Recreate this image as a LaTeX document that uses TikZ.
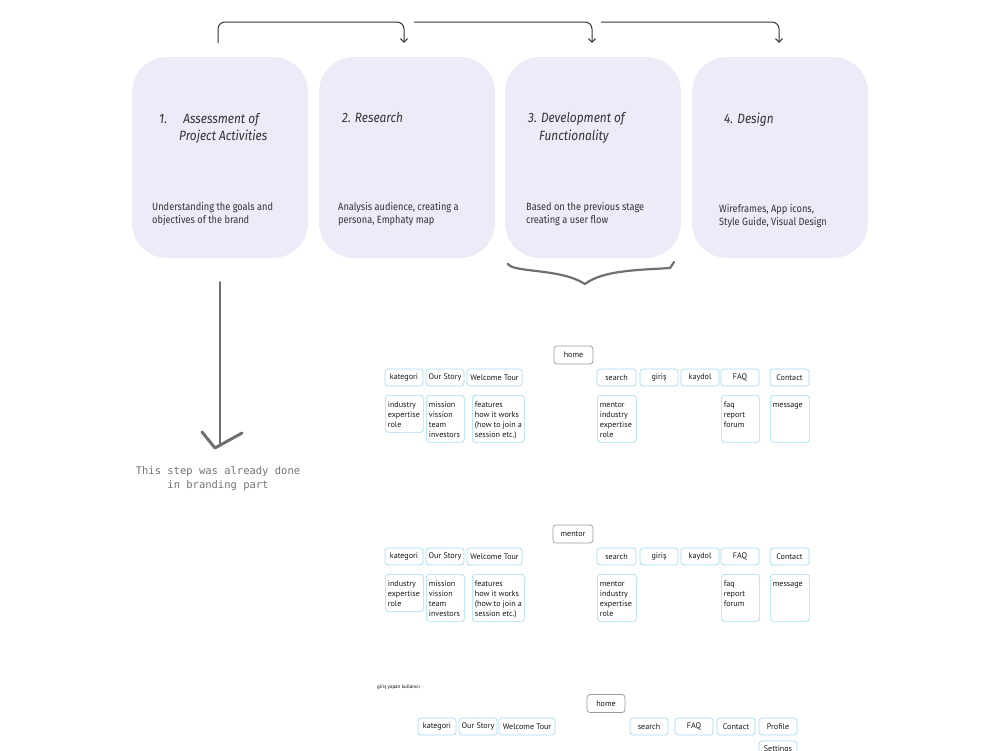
\documentclass[tikz,border=0pt]{standalone}
\usepackage{fontspec}
\usetikzlibrary{arrows.meta}
\newfontfamily\cardfont{Fira Sans}[FakeStretch=0.88]
\newfontfamily\sitefont{PT Sans}
\newfontfamily\notefont{DejaVu Sans Mono}
\definecolor{cardfill}{HTML}{EDEBF7}
\definecolor{cardtext}{HTML}{333333}
\definecolor{sitecyan}{HTML}{A3DBF3}
\definecolor{sitegray}{HTML}{9A9A9A}
\definecolor{pencil}{HTML}{707070}
\tikzset{
  card/.style={fill=cardfill, rounded corners=35pt, minimum width=176pt, minimum height=201pt, inner sep=0pt},
  ctitle/.style={anchor=base west, inner sep=0pt, font=\cardfont\itshape\fontsize{13.5}{16}\selectfont, text=cardtext},
  cbody/.style={anchor=base west, inner sep=0pt, font=\cardfont\fontsize{10.5}{13}\selectfont, text=cardtext},
  flow/.style={draw=black!80, line width=1pt, rounded corners=7pt, -{Straight Barb[length=3.5pt,width=7pt]}},
  sbox/.style={draw=sitecyan, fill=white, line width=0.7pt, rounded corners=3pt, inner sep=0pt, minimum height=17pt, font=\sitefont\fontsize{8.1}{10}\selectfont, text=black!90},
  hbox/.style={sbox, draw=sitegray, minimum height=18pt},
  lbox/.style={sbox, anchor=north west, inner sep=2.5pt, align=left},
  note/.style={font=\notefont\fontsize{10.5}{14}\selectfont, text=black!55, align=center, inner sep=0pt}
}
\newcommand{\lb}[3]{\parbox[t][#2pt][t]{#1pt}{\rule{0pt}{10pt}#3}}
\begin{document}
\begin{tikzpicture}[x=1pt,y=-1pt]
\useasboundingbox (0,0) rectangle (1000,750);
\clip (0,0) rectangle (1000,750);
% cards
\node[card] (c1) at (220,157.5) {};
\node[card] (c2) at (407,157.5) {};
\node[card] (c3) at (593,157.5) {};
\node[card] (c4) at (780,157.5) {};
\node[ctitle] (t1a) at (159,123) {1.\hspace{1.2em}Assessment of};
\node[ctitle] (t1b) at (179,140) {Project Activities};
\node[ctitle] (t2) at (342,122) {2. Research};
\node[ctitle] (t3a) at (528,122) {3. Development of};
\node[ctitle] (t3b) at (539,140) {Functionality};
\node[ctitle] (t4) at (724,123) {4. Design};
\node[cbody] (b1a) at (152,210) {Understanding the goals and};
\node[cbody] (b1b) at (152,223) {objectives of the brand};
\node[cbody] (b2a) at (338,210) {Analysis audience, creating a};
\node[cbody] (b2b) at (338,223) {persona, Emphaty map};
\node[cbody] (b3a) at (526,210) {Based on the previous stage};
\node[cbody] (b3b) at (526,223) {creating a user flow};
\node[cbody] (b4a) at (719,212) {Wireframes, App icons,};
\node[cbody] (b4b) at (719,225) {Style Guide, Visual Design};
% top arrows
\coordinate (a1s) at ([yshift=14pt,xshift=-2pt]c1.north);
\coordinate (a1e) at ([yshift=14pt,xshift=-3pt]c2.north);
\coordinate (a2s) at (414,22);
\coordinate (a2e) at ([yshift=14pt,xshift=-1pt]c3.north);
\coordinate (a3s) at (601,22);
\coordinate (a3e) at ([yshift=14pt,xshift=-1pt]c4.north);
\draw[flow] (a1s) |- (404,22) -- (a1e);
\draw[flow] (a2s) -- (592,22) -- (a2e);
\draw[flow] (a3s) -- (779,22) -- (a3e);
% brace under card 3
\draw[pencil, line width=2.2pt, line cap=round, line join=round]
  (508,264) .. controls (514,273) and (560,268) .. (585,284)
  .. controls (603,270) and (640,270) .. (670,268) -- (674,262);
% pencil arrow
\coordinate (pa) at (220,282);
\coordinate (pb) at (220,446);
\draw[pencil, line width=1.8pt, line cap=round] (pa) -- (pb);
\draw[pencil, line width=3pt, line cap=round, line join=round] (202,432) -- (215,448) -- (242,433);
\node[note] (nt) at (218,479) {This step was already done\\in branding part};
% ---------- sitemap 1 ----------
\node[hbox, minimum width=39pt] (h1) at (573.5,355) {home};
\node[sbox, minimum width=38pt] (k1) at (404,377.5) {kategori};
\node[sbox, minimum width=38pt] (o1) at (445,377.5) {Our Story};
\node[sbox, minimum width=55pt] (w1) at (494.5,377.5) {Welcome Tour};
\node[sbox, minimum width=39pt] (s1) at (616.5,377.5) {search};
\node[sbox, minimum width=38pt] (g1) at (659,377.5) {giriş};
\node[sbox, minimum width=38pt] (y1) at (700,377.5) {kaydol};
\node[sbox, minimum width=38pt] (f1) at (740,377.5) {FAQ};
\node[sbox, minimum width=39pt] (ct1) at (789.5,377.5) {Contact};
\node[lbox] (ki1) at (385,395) {\lb{33}{32}{industry\\expertise\\role}};
\node[lbox] (oi1) at (426,395) {\lb{33}{42}{mission\\vission\\team\\investors}};
\node[lbox] (wi1) at (472,395) {\lb{47}{42}{features\\how it works\\(how to join a\\session etc.)}};
\node[lbox] (si1) at (597,395) {\lb{34}{42}{mentor\\industry\\expertise\\role}};
\node[lbox] (fi1) at (721,395) {\lb{33}{42}{faq\\report\\forum}};
\node[lbox] (ci1) at (770,395) {\lb{34}{42}{message}};
% ---------- sitemap 2 ----------
\node[hbox, minimum width=40pt] (h2) at (573,534) {mentor};
\node[sbox, minimum width=38pt] (k2) at (404,556.5) {kategori};
\node[sbox, minimum width=38pt] (o2) at (445,556.5) {Our Story};
\node[sbox, minimum width=55pt] (w2) at (494.5,556.5) {Welcome Tour};
\node[sbox, minimum width=39pt] (s2) at (616.5,556.5) {search};
\node[sbox, minimum width=38pt] (g2) at (659,556.5) {giriş};
\node[sbox, minimum width=38pt] (y2) at (700,556.5) {kaydol};
\node[sbox, minimum width=38pt] (f2) at (740,556.5) {FAQ};
\node[sbox, minimum width=39pt] (ct2) at (789.5,556.5) {Contact};
\node[lbox] (ki2) at (385,574) {\lb{33}{32}{industry\\expertise\\role}};
\node[lbox] (oi2) at (426,574) {\lb{33}{42}{mission\\vission\\team\\investors}};
\node[lbox] (wi2) at (472,574) {\lb{47}{42}{features\\how it works\\(how to join a\\session etc.)}};
\node[lbox] (si2) at (597,574) {\lb{34}{42}{mentor\\industry\\expertise\\role}};
\node[lbox] (fi2) at (721,574) {\lb{33}{42}{faq\\report\\forum}};
\node[lbox] (ci2) at (770,574) {\lb{34}{42}{message}};
% ---------- sitemap 3 ----------
\node[anchor=west, inner sep=0pt, font=\sitefont\fontsize{5}{6}\selectfont] (lab3) at (377,687) {giriş yapan kullanıcı};
\node[hbox, minimum width=38pt] (h3) at (606,703.5) {home};
\node[sbox, minimum width=38pt] (k3) at (437,726.5) {kategori};
\node[sbox, minimum width=38pt] (o3) at (478,726.5) {Our Story};
\node[sbox, minimum width=56pt] (w3) at (527,726.5) {Welcome Tour};
\node[sbox, minimum width=38pt] (s3) at (649,726.5) {search};
\node[sbox, minimum width=38pt] (f3) at (694,726.5) {FAQ};
\node[sbox, minimum width=38pt] (ct3) at (736,726.5) {Contact};
\node[sbox, minimum width=38pt] (p3) at (778,726.5) {Profile};
\node[sbox, minimum width=38pt] (st3) at (778,749.5) {Settings};
\end{tikzpicture}
\end{document}
